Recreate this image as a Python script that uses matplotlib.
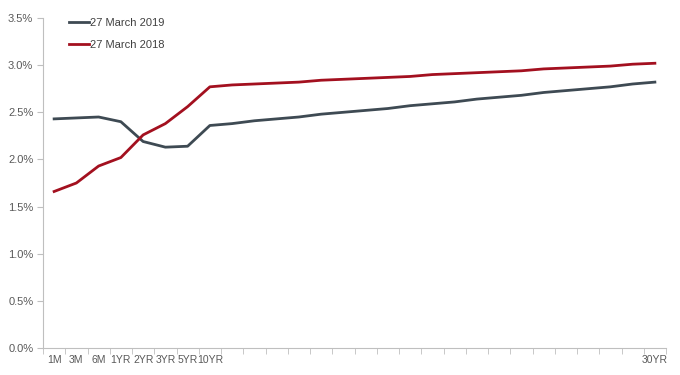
import matplotlib
matplotlib.use("Agg")
import matplotlib.pyplot as plt
import numpy as np
from matplotlib.ticker import FuncFormatter

categories = ["1M", "3M", "6M", "1YR", "2YR", "3YR", "5YR", "10YR"] + [""] * 19 + ["30YR"]

mar_2019 = [2.43, 2.44, 2.45, 2.40, 2.19, 2.13, 2.14, 2.36,
            2.38, 2.41, 2.43, 2.45, 2.48, 2.50, 2.52, 2.54, 2.57, 2.59,
            2.61, 2.64, 2.66, 2.68, 2.71, 2.73, 2.75, 2.77, 2.80, 2.82]
mar_2018 = [1.66, 1.75, 1.93, 2.02, 2.26, 2.38, 2.56, 2.77,
            2.79, 2.80, 2.81, 2.82, 2.84, 2.85, 2.86, 2.87, 2.88, 2.90,
            2.91, 2.92, 2.93, 2.94, 2.96, 2.97, 2.98, 2.99, 3.01, 3.02]

yticks = [0.0, 0.5, 1.0, 1.5, 2.0, 2.5, 3.0, 3.5]

plt.rcParams['font.family'] = ['Liberation Sans', 'DejaVu Sans']

fig = plt.figure(figsize=(6.8, 3.75), dpi=100)
ax = fig.add_axes([43/680, 27/375, (666-43)/680, (348-18)/375])

x = np.arange(len(categories))
ax.plot(x, mar_2019, color="#3e4a53", lw=2.0, label="27 March 2019")
ax.plot(x, mar_2018, color="#a3101f", lw=2.0, label="27 March 2018")

ax.set_xlim(-0.5, len(categories) - 0.5)
ax.set_ylim(0, 3.5)
ax.set_yticks(yticks)
ax.yaxis.set_major_formatter(FuncFormatter(lambda v, p: f"{v:.1f}%"))

ax.set_xticks(x)
ax.set_xticklabels(categories)
ax.set_xticks(np.arange(-0.5, len(categories)), minor=True)
ax.tick_params(axis='x', which='major', length=0, pad=5, labelsize=7.5, colors="#595959")
ax.tick_params(axis='x', which='minor', length=4, color="#bfbfbf", direction='out')
ax.tick_params(axis='y', length=4, labelsize=8, colors="#595959", pad=3)
ax.tick_params(axis='y', color="#bfbfbf")

for s in ["top", "right"]:
    ax.spines[s].set_visible(False)
for s in ["left", "bottom"]:
    ax.spines[s].set_color("#bfbfbf")
    ax.spines[s].set_linewidth(0.8)

leg = ax.legend(loc="upper left", bbox_to_anchor=(0.025, 1.03), frameon=False,
                fontsize=8, handlelength=1.8, handletextpad=0.15, labelspacing=1.05)
for t in leg.get_texts():
    t.set_color("#404040")

fig.savefig("out.png", dpi=100)
